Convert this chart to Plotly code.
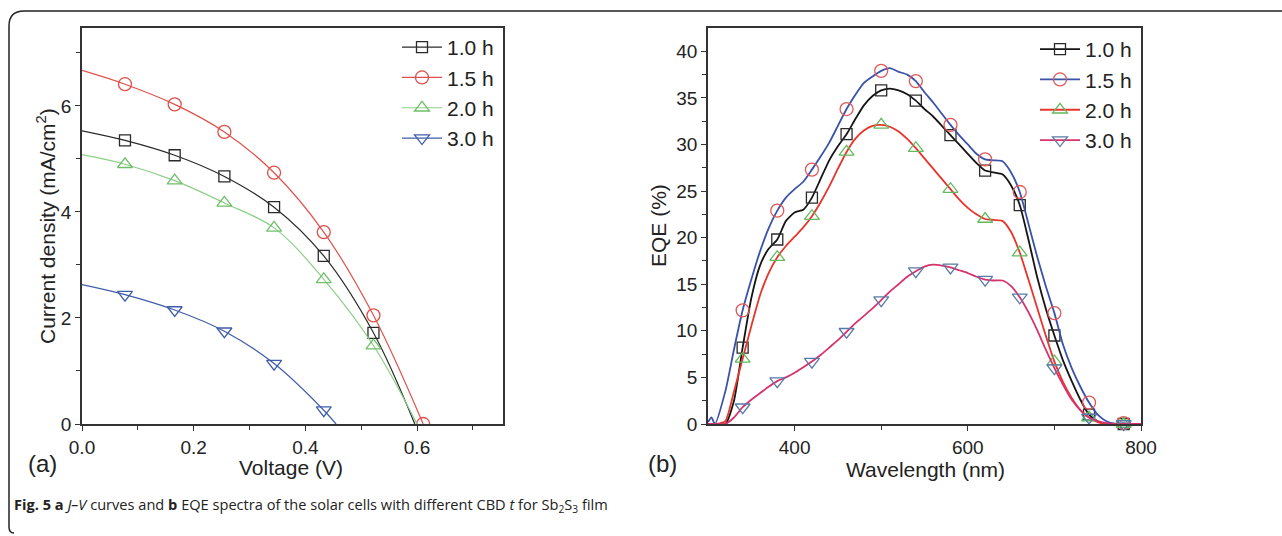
import plotly.graph_objects as go

W, H = 1282, 536

# ---------------- (a) J-V data ----------------
series_names = ["1.0 h", "1.5 h", "2.0 h", "3.0 h"]
jv_marker_v = [0.077, 0.166, 0.255, 0.344, 0.433, 0.522, 0.611]

jv_v_10 = [0.0, 0.077, 0.166, 0.255, 0.344, 0.433, 0.522, 0.596]
jv_j_10 = [5.53, 5.35, 5.07, 4.67, 4.09, 3.17, 1.72, 0.0]

jv_v_15 = [0.0, 0.077, 0.166, 0.255, 0.344, 0.433, 0.522, 0.611]
jv_j_15 = [6.67, 6.41, 6.03, 5.51, 4.74, 3.62, 2.05, 0.0]

jv_v_20 = [0.0, 0.077, 0.166, 0.255, 0.344, 0.433, 0.522, 0.600]
jv_j_20 = [5.08, 4.90, 4.59, 4.17, 3.70, 2.73, 1.48, 0.0]

jv_v_30 = [0.0, 0.077, 0.166, 0.255, 0.344, 0.433, 0.455]
jv_j_30 = [2.63, 2.44, 2.15, 1.75, 1.14, 0.26, 0.0]

# ---------------- (b) EQE data ----------------
eqe_marker_wl = [340, 380, 420, 460, 500, 540, 580, 620, 660, 700, 740, 780]

eqe_wl = [300, 310, 320, 330, 340, 350, 360, 370, 380, 390, 400, 410, 420, 430, 440,
          450, 460, 470, 480, 490, 500, 510, 520, 530, 540, 550, 560, 570, 580, 590,
          600, 610, 620, 630, 640, 650, 660, 670, 680, 690, 700, 710, 720, 730, 740,
          750, 760, 770, 780, 790, 800]

eqe_10 = [0, 0, 0, 2.5, 8.2, 13.5, 17.0, 18.8, 19.8, 21.8, 22.7, 23.0, 24.3, 26.3, 28.3,
          29.8, 31.1, 32.7, 34.2, 35.2, 35.8, 36.0, 35.8, 35.4, 34.7, 33.8, 33.0, 32.0, 31.0, 30.0,
          29.0, 28.0, 27.2, 27.0, 26.8, 25.6, 23.5, 19.8, 15.8, 12.4, 9.5, 6.8, 4.6, 2.6, 1.0,
          0.3, 0.0, 0.0, 0.0, 0.0, 0.0]

eqe_wl_15 = [300, 304, 308, 320, 330, 340, 350, 360, 370, 380, 390, 400, 410, 420, 430, 440,
             450, 460, 470, 480, 490, 500, 510, 520, 530, 540, 550, 560, 570, 580, 590,
             600, 610, 620, 630, 640, 650, 660, 670, 680, 690, 700, 710, 720, 730, 740,
             750, 760, 770, 780, 790, 800]
eqe_15 = [0.2, 0.7, 0.0, 3.5, 8.0, 12.2, 15.5, 18.5, 21.0, 22.9, 24.3, 25.2, 26.0, 27.3, 28.7, 30.2,
          32.0, 33.8, 35.3, 36.6, 37.3, 37.9, 38.2, 37.8, 37.5, 36.8, 35.6, 34.5, 33.3, 32.1, 31.0,
          30.0, 29.0, 28.4, 28.3, 28.2, 27.0, 24.9, 21.5, 18.0, 14.8, 11.9, 8.5, 6.0, 4.0, 2.3,
          1.0, 0.3, 0.05, 0.1, 0.0, 0.0]

eqe_20 = [0, 0, 0.3, 3.5, 7.0, 10.5, 13.8, 16.2, 17.9, 19.1, 20.1, 21.1, 22.3, 23.8, 25.5,
          27.4, 29.2, 30.6, 31.5, 32.0, 32.1, 31.9, 31.4, 30.6, 29.6, 28.5, 27.4, 26.3, 25.2, 24.1,
          23.2, 22.5, 22.0, 21.9, 21.8, 20.6, 18.4, 15.5, 12.5, 9.5, 6.7, 4.5, 2.8, 1.5, 0.7,
          0.2, 0.0, 0.0, 0.0, 0.0, 0.0]

eqe_30 = [0, 0, 0, 0.7, 1.8, 2.6, 3.3, 4.0, 4.6, 5.0, 5.5, 6.1, 6.7, 7.4, 8.2,
          9.0, 9.9, 10.8, 11.6, 12.4, 13.3, 14.2, 15.0, 15.8, 16.4, 16.9, 17.1, 17.0, 16.8, 16.5,
          16.2, 15.8, 15.5, 15.4, 15.4, 14.8, 13.6, 12.0, 10.1, 8.0, 6.0, 4.2, 2.6, 1.5, 0.7,
          0.3, 0.1, 0.0, 0.0, 0.0, 0.0]

# ---------------- styles ----------------
FONT = "Liberation Sans, Arial, sans-serif"
a_line_colors = ["#2a2a2a", "#e0504a", "#8ccf86", "#3f5ca8"]
a_marker_colors = ["#2a2a2a", "#e0504a", "#6fc06a", "#3f5ca8"]
b_line_colors = ["#151515", "#3a52a8", "#e8352c", "#d6336e"]
b_marker_colors = ["#2a2a2a", "#e05858", "#62b95e", "#5a7aa6"]
symbols = ["square-open", "circle-open", "triangle-up-open", "triangle-down-open"]
msizes = [11, 13, 13, 13]


def px_x(x):
    return x / W


def px_y(y):
    return 1 - y / H


fig = go.Figure()

jv_sets = [(jv_v_10, jv_j_10), (jv_v_15, jv_j_15), (jv_v_20, jv_j_20), (jv_v_30, jv_j_30)]
for i, (vv, jj) in enumerate(jv_sets):
    fig.add_trace(go.Scatter(
        x=vv, y=jj, mode="lines", line=dict(color=a_line_colors[i], width=1.2, shape="spline", smoothing=1.0),
        showlegend=False, xaxis="x", yaxis="y", hoverinfo="skip"))
    mv = [v for v in vv if v in jv_marker_v]
    mj = [j for v, j in zip(vv, jj) if v in jv_marker_v]
    fig.add_trace(go.Scatter(
        x=mv, y=mj, mode="markers",
        marker=dict(symbol=symbols[i], size=msizes[i], color=a_marker_colors[i], line=dict(width=1.3)),
        showlegend=False, xaxis="x", yaxis="y"))
    fig.add_trace(go.Scatter(
        x=[None], y=[None], mode="lines+markers", name=series_names[i],
        line=dict(color=a_line_colors[i], width=1.2),
        marker=dict(symbol=symbols[i], size=msizes[i], color=a_marker_colors[i], line=dict(width=1.3)),
        legend="legend", legendgroup="a%d" % i, xaxis="x", yaxis="y"))

eqe_sets = [(eqe_wl, eqe_10), (eqe_wl_15, eqe_15), (eqe_wl, eqe_20), (eqe_wl, eqe_30)]
for i, (ww, ee) in enumerate(eqe_sets):
    fig.add_trace(go.Scatter(
        x=ww, y=ee, mode="lines", line=dict(color=b_line_colors[i], width=1.8, shape="spline", smoothing=0.6),
        showlegend=False, xaxis="x2", yaxis="y2", hoverinfo="skip"))
    mw = [w for w in ww if w in eqe_marker_wl]
    me = [e for w, e in zip(ww, ee) if w in eqe_marker_wl]
    fig.add_trace(go.Scatter(
        x=mw, y=me, mode="markers", cliponaxis=False,
        marker=dict(symbol=symbols[i], size=msizes[i], color=b_marker_colors[i], line=dict(width=1.3)),
        showlegend=False, xaxis="x2", yaxis="y2"))
    fig.add_trace(go.Scatter(
        x=[None], y=[None], mode="lines+markers", name=series_names[i],
        line=dict(color=b_line_colors[i], width=1.8),
        marker=dict(symbol=symbols[i], size=msizes[i], color=b_marker_colors[i], line=dict(width=1.3)),
        legend="legend2", legendgroup="b%d" % i, xaxis="x2", yaxis="y2"))

axis_common = dict(showline=True, mirror=True, linecolor="#333", linewidth=1.5, showgrid=False,
                   zeroline=False, ticks="outside", ticklen=5, tickwidth=1.3, tickcolor="#333",
                   automargin=False, tickfont=dict(family=FONT, size=19, color="#222"))

fig.update_layout(
    width=W, height=H, margin=dict(l=0, r=0, t=0, b=0, autoexpand=False), autosize=False,
    paper_bgcolor="white", plot_bgcolor="white",
    font=dict(family=FONT, color="#222"),
    xaxis=dict(domain=[px_x(82), px_x(503)], range=[0, 0.754], anchor="y",
               tickvals=[0, 0.2, 0.4, 0.6], ticktext=["0.0", "0.2", "0.4", "0.6"],
               minor=dict(tickvals=[0.1, 0.3, 0.5, 0.7], ticks="outside", ticklen=4, tickcolor="#333"),
               **axis_common),
    yaxis=dict(domain=[px_y(424), px_y(28)], range=[0, 7.47], anchor="x",
               tickvals=[0, 2, 4, 6],
               minor=dict(tickvals=[1, 3, 5, 7], ticks="outside", ticklen=4, tickcolor="#333"),
               **axis_common),
    xaxis2=dict(domain=[px_x(708), px_x(1141)], range=[300, 800], anchor="y2",
                tickvals=[400, 600, 800],
                minor=dict(tickvals=[500, 700], ticks="outside", ticklen=4, tickcolor="#333"),
                **axis_common),
    yaxis2=dict(domain=[px_y(424), px_y(28)], range=[0, 42.5], anchor="x2",
                tickvals=[0, 5, 10, 15, 20, 25, 30, 35, 40],
                minor=dict(tickvals=[2.5, 7.5, 12.5, 17.5, 22.5, 27.5, 32.5, 37.5], ticks="outside",
                           ticklen=4, tickcolor="#333"),
                **axis_common),
    legend=dict(x=px_x(397), y=px_y(27), xanchor="left", yanchor="top", bgcolor="rgba(0,0,0,0)",
                font=dict(family=FONT, size=21, color="#222"), traceorder="grouped",
                tracegroupgap=0, itemwidth=40),
    legend2=dict(x=px_x(1035), y=px_y(29), xanchor="left", yanchor="top", bgcolor="rgba(0,0,0,0)",
                 font=dict(family=FONT, size=21, color="#222"), traceorder="grouped",
                 tracegroupgap=0, itemwidth=40),
    showlegend=True,
)

ann = [
    dict(text="Current density (mA/cm<sup>2</sup>)", x=px_x(46), y=px_y(226), textangle=-90,
         font=dict(size=21)),
    dict(text="EQE (%)", x=px_x(659), y=px_y(226), textangle=-90, font=dict(size=21)),
    dict(text="Voltage (V)", x=px_x(291), y=px_y(467), font=dict(size=21)),
    dict(text="Wavelength (nm)", x=px_x(925), y=px_y(469), font=dict(size=21)),
    dict(text="(a)", x=px_x(42), y=px_y(464), font=dict(size=24)),
    dict(text="(b)", x=px_x(663), y=px_y(464), font=dict(size=24)),
]
for a in ann:
    a.update(xref="paper", yref="paper", showarrow=False, xanchor="center", yanchor="middle")
    a["font"] = dict(family=FONT, color="#222", size=a["font"]["size"])
    fig.add_annotation(**a)

fig.add_annotation(
    text="<b>Fig. 5 a</b> <i>J–V</i> curves and <b>b</b> EQE spectra of the solar cells with different CBD "
         "<i>t</i> for Sb<sub>2</sub>S<sub>3</sub> film",
    x=px_x(12), y=px_y(505), xref="paper", yref="paper", xanchor="left", yanchor="middle",
    showarrow=False, font=dict(family="Open Sans, sans-serif", size=14.6, color="#222"))

# outer rounded frame (top and left edges)
path = "M {},{} L {},{} Q {},{} {},{} L {},{} Q {},{} {},{}".format(
    px_x(1282), px_y(11), px_x(24), px_y(11), px_x(9), px_y(11), px_x(9), px_y(26),
    px_x(9), px_y(527), px_x(9), px_y(533), px_x(14), px_y(533))
fig.add_shape(type="path", path=path, xref="paper", yref="paper",
              line=dict(color="#222", width=1.5))

fig.write_html("out.html")
